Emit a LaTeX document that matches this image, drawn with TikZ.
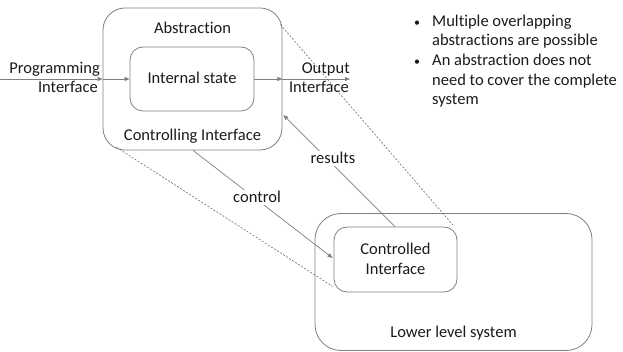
\documentclass[tikz,border=0pt]{standalone}
\usepackage{fontspec}
\setmainfont{Carlito}[Ligatures=NoCommon]
\usetikzlibrary{arrows.meta}
\definecolor{edge}{HTML}{7F7F7F}
\definecolor{ink}{HTML}{1A1A1A}
\begin{document}
\begin{tikzpicture}[x=1pt,y=-1pt,
  font=\fontsize{16.5}{19.8}\selectfont,
  every node/.style={text=ink},
  roundbox/.style={draw=edge,line width=0.8pt,inner sep=0pt},
  link/.style={draw=edge,line width=0.7pt},
  tip/.style={-{Triangle[length=5pt,width=4pt]}},
  hint/.style={draw=edge!85!black,line width=0.6pt,dash pattern=on 2pt off 1.6pt},
  word/.style={anchor=base,inner sep=0pt},
  onlink/.style={fill=white,inner sep=1.5pt,anchor=base}]
\useasboundingbox (0,0) rectangle (623,352);

% boxes
\node[roundbox,rounded corners=22pt,minimum width=179pt,minimum height=142pt] (abs) at (192.5,79) {};
\node[roundbox,rounded corners=13pt,minimum width=124pt,minimum height=64pt] (state) at (192,79) {};
\node[roundbox,rounded corners=26pt,minimum width=277pt,minimum height=137pt] (lower) at (453.5,282) {};
\node[roundbox,rounded corners=13pt,minimum width=123pt,minimum height=65pt] (ctl) at (395.5,259.5) {};

% texts in the boxes
\node[word] (absT) at (192.5,34) {Abstraction};
\node[word] (ctrlT) at (192.5,141) {Controlling Interface};
\node[word] (stateT) at (192,84) {Internal state};
\node[word] (ctlT1) at (395.5,255) {Controlled};
\node[word] (ctlT2) at (395.5,275) {Interface};
\node[word] (lowT) at (453.5,337) {Lower level system};

% interface labels
\node[word,anchor=base east] (pi1) at (100,74) {Programming};
\node[word,anchor=base east] (pi2) at (98,93) {Interface};
\node[word,anchor=base east] (oi1) at (350,74) {Output};
\node[word,anchor=base east] (oi2) at (349,93) {Interface};

% data flow through the abstraction
\coordinate (inS) at (0,79);
\coordinate (outE) at (350,79);
\draw[link,tip] (inS) -- (abs.west);
\draw[link,tip] (abs.west) -- (state.west);
\draw[link,tip] (state.east) -- (abs.east);
\draw[link,tip] (abs.east) -- (outE);

% control and results
\coordinate (cFrom) at ([shift={(0.5,0)}]abs.south);
\coordinate (cTo) at ([shift={(-1,-1.5)}]ctl.west);
\draw[link,tip] (cFrom) -- (cTo);
\node[onlink] (ctrlL) at (257,203) {control};
\coordinate (rFrom) at ([shift={(-0.5,0)}]ctl.north);
\coordinate (rTo) at ([shift={(1,36)}]abs.east);
\draw[link,tip] (rFrom) -- (rTo);
\node[onlink] (resL) at (333,164) {results};

% dashed correspondence lines
\coordinate (d1a) at ([shift={(-2,17)}]abs.north east);
\coordinate (d1b) at ([shift={(-4,-1)}]ctl.north east);
\coordinate (d2a) at ([shift={(14,-3)}]abs.south west);
\coordinate (d2b) at ([shift={(-1,-6)}]ctl.south west);
\draw[hint] (d1a) -- (d1b);
\draw[hint] (d2a) -- (d2b);

% bullet notes
\foreach \by in {26.5,66}
  \node[word] at (417,\by) {\fontsize{12}{12}\selectfont •};
\node[word,anchor=base west] (n1) at (432,26.5) {Multiple overlapping};
\node[word,anchor=base west] (n2) at (432,46) {abstractions are possible};
\node[word,anchor=base west] (n3) at (432,66) {An abstraction does not};
\node[word,anchor=base west] (n4) at (432,85.5) {need to cover the complete};
\node[word,anchor=base west] (n5) at (432,105) {system};
\end{tikzpicture}
\end{document}
